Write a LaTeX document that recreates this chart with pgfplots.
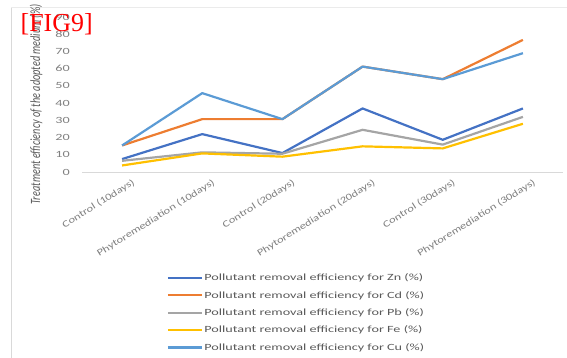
\documentclass[border=0pt]{standalone}
\usepackage{fontspec}
\setmainfont{Carlito}
\newfontfamily\tickfont{Carlito}[FakeStretch=1.5]
\newfontfamily\xtickfont{Carlito}[FakeStretch=1.32]
\newfontfamily\ylabfont{Carlito}[FakeStretch=0.725]
\newfontfamily\figfont{Liberation Serif}
\usepackage{pgfplots}
\pgfplotsset{compat=1.18}

\definecolor{znblue}{HTML}{4472C4}
\definecolor{cdorange}{HTML}{ED7D31}
\definecolor{pbgray}{HTML}{A5A5A5}
\definecolor{fegold}{HTML}{FFC000}
\definecolor{cublue}{HTML}{5B9BD5}
\definecolor{ticktext}{HTML}{7F7F7F}
\definecolor{legtext}{HTML}{595959}
\definecolor{axisgray}{HTML}{D9D9D9}

\begin{document}
\begin{tikzpicture}
\useasboundingbox (0,0) rectangle (567bp,358bp);
\clip (0,0) rectangle (567bp,358bp);
% page frame
\draw[line width=1bp, draw=black!15] (11bp,0) -- (11bp,351bp);
\draw[line width=0.6bp, draw=black!8] (11bp,351bp) -- (567bp,351bp);

\begin{axis}[
  at={(82bp,186bp)}, anchor=south west,
  scale only axis, width=481bp, height=155bp,
  xmin=-0.5, xmax=5.5, ymin=0, ymax=90,
  axis x line=bottom, axis y line=left,
  x axis line style={draw=axisgray, line width=0.8bp, -},
  y axis line style={draw=none},
  major tick length=0pt,
  xtick={0,1,2,3,4,5},
  xticklabels={Control (10days), Phytoremediation (10days), Control (20days),
               Phytoremediation (20days), Control (30days), Phytoremediation (30days)},
  ytick={0,10,...,90},
  /pgf/number format/assume math mode=true,
  yticklabel style={font=\tickfont\fontsize{9.5}{11}\selectfont, text=ticktext,
                    anchor=east, inner sep=0pt, xshift=-12bp},
  xticklabel style={font=\xtickfont\fontsize{9.5}{11}\selectfont, text=ticktext,
                    anchor=east, rotate=32, inner sep=0pt, xshift=5bp, yshift=-14.5bp},
  ylabel={Treatment efficiency of the adopted medium (\%)},
  ylabel style={font=\ylabfont\itshape\fontsize{14.2}{15}\selectfont, text=legtext,
                at={(axis description cs:-0.0956,0.4355)}, anchor=center, inner sep=0pt},
  legend style={at={(axis description cs:0.1757,-0.645)}, anchor=north west,
                draw=none, fill=none, inner sep=0pt, row sep=6bp,
                font=\tickfont\fontsize{9.5}{11}\selectfont, text=legtext,
                nodes={inner sep=1.5bp}},
  legend cell align=left,
  legend image code/.code={\draw[#1] (0bp,0bp) -- (34bp,0bp);},
  every axis plot/.append style={line width=2.2bp, line join=round},
]
\addplot[color=znblue] coordinates {(0,7.5) (1,22.0) (2,11.0) (3,36.9) (4,18.7) (5,36.9)};
\addlegendentry{Pollutant removal efficiency for Zn (\%)}
\addplot[color=cdorange] coordinates {(0,15.4) (1,30.7) (2,30.7) (3,61.2) (4,53.9) (5,76.7)};
\addlegendentry{Pollutant removal efficiency for Cd (\%)}
\addplot[color=pbgray] coordinates {(0,6.5) (1,11.4) (2,10.6) (3,24.5) (4,15.9) (5,32.0)};
\addlegendentry{Pollutant removal efficiency for Pb (\%)}
\addplot[color=fegold] coordinates {(0,3.8) (1,10.8) (2,8.9) (3,14.9) (4,13.7) (5,28.0)};
\addlegendentry{Pollutant removal efficiency for Fe (\%)}
\addplot[color=cublue] coordinates {(0,15.4) (1,45.8) (2,30.7) (3,61.2) (4,53.9) (5,69.0)};
\addlegendentry{Pollutant removal efficiency for Cu (\%)}
\end{axis}

% figure tag
\node[anchor=base west, inner sep=0pt, text=red, font=\figfont\fontsize{26}{28}\selectfont]
  at (20.5bp,326bp) {[FIG9]};
\end{tikzpicture}
\end{document}
